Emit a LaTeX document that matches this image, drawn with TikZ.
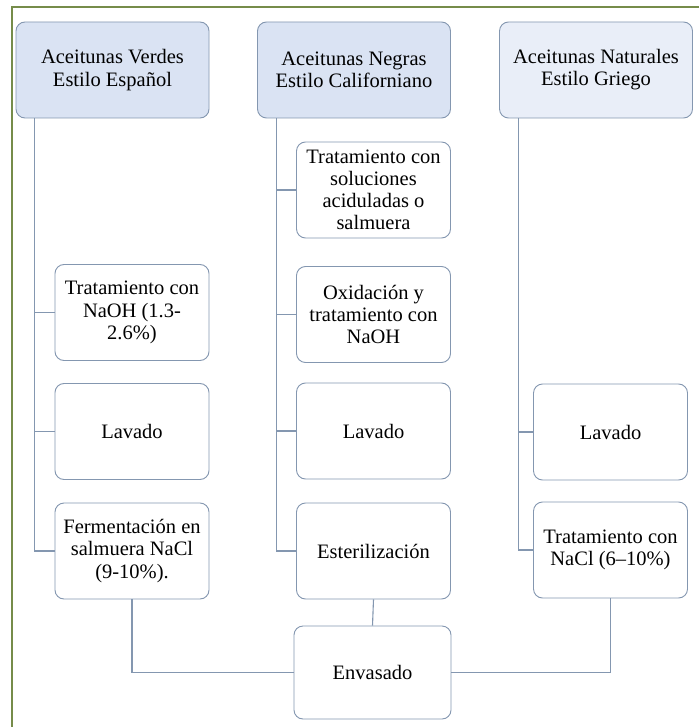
\documentclass[tikz,border=0pt]{standalone}
\usepackage{fontspec}
\setmainfont{Liberation Serif}
\usepackage{tikz}
\definecolor{marco}{RGB}{118,140,74}
\definecolor{borde}{RGB}{132,151,176}
\definecolor{azul}{RGB}{218,227,243}
\definecolor{azulclaro}{RGB}{233,238,248}

\begin{document}
\begin{tikzpicture}[x=1pt, y=-1pt,
  caja/.style={draw=borde, line width=0.9pt, rounded corners=9pt, fill=white,
    align=center, minimum width=154pt, minimum height=96pt, inner sep=2pt,
    font=\fontsize{20.5}{22.2}\selectfont},
  cabeza/.style={caja, minimum width=193pt},
  linea/.style={draw=borde, line width=1.1pt}]
\useasboundingbox (0,0) rectangle (698,727);
\fill[white] (0,0) rectangle (698,727);
\draw[marco, line width=2.2pt] (12,7) rectangle (720,750);
%
\node[cabeza, fill=azul](verdes) at (112.5,70) {Aceitunas Verdes\\Estilo Español};
\node[cabeza, fill=azul](negras) at (354,70) {Aceitunas Negras\\Estilo Californiano};
\node[cabeza, fill=azulclaro](naturales) at (596,70) {Aceitunas Naturales\\Estilo Griego};
%
\node[caja](naoh) at (132,312.5) {Tratamiento con\\NaOH (1.3-\\2.6\%)};
\node[caja](lavadoA) at (132,431.5) {Lavado};
\node[caja](ferm) at (132,551) {Fermentación en\\salmuera NaCl\\(9-10\%).};
%
\node[caja](acidas) at (373.5,190) {Tratamiento con\\soluciones\\aciduladas o\\salmuera};
\node[caja](oxid) at (373.5,314.5) {Oxidación y\\tratamiento con\\NaOH};
\node[caja](lavadoB) at (373.5,431) {Lavado};
\node[caja](ester) at (373.5,551) {Esterilización};
%
\node[caja](lavadoC) at (610.5,432) {Lavado};
\node[caja](nacl) at (610.5,550) {Tratamiento con\\NaCl (6--10\%)};
%
\node[caja, minimum width=157pt, minimum height=93pt](envasado) at (372.5,672.5) {Envasado};
%
\coordinate(tv) at ([xshift=19pt]verdes.south west);
\coordinate(tn) at ([xshift=19pt]negras.south west);
\coordinate(tg) at ([xshift=19pt]naturales.south west);
%
\draw[linea](tv) |- (ferm.west);
\draw[linea](tv |- naoh.west) -- (naoh.west);
\draw[linea](tv |- lavadoA.west) -- (lavadoA.west);
%
\draw[linea](tn) |- (ester.west);
\draw[linea](tn |- acidas.west) -- (acidas.west);
\draw[linea](tn |- oxid.west) -- (oxid.west);
\draw[linea](tn |- lavadoB.west) -- (lavadoB.west);
%
\draw[linea](tg) |- (nacl.west);
\draw[linea](tg |- lavadoC.west) -- (lavadoC.west);
%
\draw[linea](ferm.south) |- (envasado.west);
\draw[linea](ester.south) -- (envasado.north);
\draw[linea](nacl.south) |- (envasado.east);
\end{tikzpicture}
\end{document}
